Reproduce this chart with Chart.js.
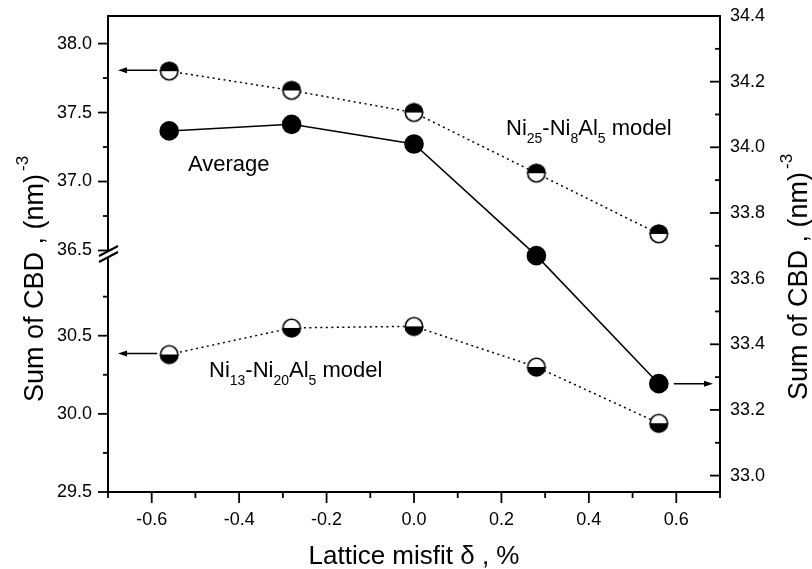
<!DOCTYPE html>
<html>
<head>
<meta charset="utf-8">
<script src="https://cdn.jsdelivr.net/npm/chart.js@4/dist/chart.umd.min.js"></script>
<style>
  html, body { margin: 0; padding: 0; background: #fff; }
  #wrap { width: 812px; height: 569px; }
</style>
</head>
<body>
<div id="wrap"><canvas id="chart" width="812" height="569"></canvas></div>
<script>
// lattice misfit (%) and sum of CBD values
const misfit = [-0.56, -0.28, 0.0, 0.28, 0.56];
const ni25Model = [37.80, 37.66, 37.50, 37.06, 36.62];
const ni13Model = [30.38, 30.55, 30.56, 30.30, 29.94];
const average = [34.05, 34.07, 34.01, 33.67, 33.28];

const xTicks = [-0.7, -0.6, -0.5, -0.4, -0.3, -0.2, -0.1, 0.0, 0.1, 0.2, 0.3, 0.4, 0.5, 0.6, 0.7];
const xLabels = [-0.6, -0.4, -0.2, 0.0, 0.2, 0.4, 0.6];
const lowTicks = [29.5, 29.75, 30.0, 30.25, 30.5, 30.75];
const highTicks = [36.5, 36.75, 37.0, 37.25, 37.5, 37.75, 38.0];
const leftLabels = [29.5, 30.0, 30.5, 36.5, 37.0, 37.5, 38.0];
const rightTicks = [33.0, 33.1, 33.2, 33.3, 33.4, 33.5, 33.6, 33.7, 33.8, 33.9, 34.0, 34.1, 34.2, 34.3, 34.4];
const rightLabels = [33.0, 33.2, 33.4, 33.6, 33.8, 34.0, 34.2, 34.4];

const FONT = "'Liberation Sans', Arial, Helvetica, sans-serif";
const has = (list, v) => list.some((t) => Math.abs(t - v) < 1e-6);
const setTicks = (list) => (axis) => { axis.ticks = list.map((v) => ({ value: v })); };
const labelFor = (list) => (value) => (has(list, value) ? value.toFixed(1) : "");
const fixSize = (prop, size) => (axis) => {
  axis[prop] = size;
  axis.paddingTop = 0; axis.paddingBottom = 0;
  axis.paddingLeft = 0; axis.paddingRight = 0;
};

const halfMarker = (topFilled) => {
  const c = document.createElement("canvas");
  const s = 24, r = 9.5, m = s / 2;
  c.width = s; c.height = s;
  const g = c.getContext("2d");
  g.fillStyle = "#fff";
  g.beginPath(); g.arc(m, m, r, 0, Math.PI * 2); g.fill();
  g.fillStyle = "#000";
  g.beginPath();
  if (topFilled) g.arc(m, m, r, Math.PI, Math.PI * 2);
  else g.arc(m, m, r, 0, Math.PI);
  g.closePath(); g.fill();
  g.strokeStyle = "#000"; g.lineWidth = 1.6;
  g.beginPath(); g.arc(m, m, r - 0.8, 0, Math.PI * 2); g.stroke();
  return c;
};

const toPoints = (ys) => misfit.map((x, i) => ({ x: x, y: ys[i] }));

const drawArrow = (ctx, x1, x2, y) => {
  const dir = Math.sign(x2 - x1);
  ctx.beginPath();
  ctx.moveTo(x1, y); ctx.lineTo(x2 - dir * 6, y); ctx.stroke();
  ctx.beginPath();
  ctx.moveTo(x2, y); ctx.lineTo(x2 - dir * 9, y - 3); ctx.lineTo(x2 - dir * 9, y + 3);
  ctx.closePath(); ctx.fill();
};

const drawModel = (ctx, parts, x, y) => {
  let cx = x;
  parts.forEach(([text, sub]) => {
    ctx.font = (sub ? "14px " : "22px ") + FONT;
    ctx.fillText(text, cx, sub ? y + 8 : y);
    cx += ctx.measureText(text).width;
  });
};

const drawYTitle = (ctx, x, y) => {
  ctx.save();
  ctx.translate(x, y);
  ctx.rotate(-Math.PI / 2);
  ctx.textAlign = "left"; ctx.textBaseline = "alphabetic";
  ctx.font = "27px " + FONT;
  const main = "Sum of CBD , (nm)";
  ctx.fillText(main, 0, 0);
  const w = ctx.measureText(main).width;
  ctx.font = "17px " + FONT;
  ctx.fillText("-3", w + 3, -15);
  ctx.restore();
};

const decorations = {
  id: "decorations",
  afterDraw(chart) {
    const ctx = chart.ctx;
    const a = chart.chartArea;
    const s = chart.scales;
    ctx.save();
    ctx.strokeStyle = "#000"; ctx.fillStyle = "#000"; ctx.lineCap = "butt";

    // frame
    ctx.lineWidth = 2;
    ctx.strokeRect(a.left, a.top, a.right - a.left, a.bottom - a.top);

    // tick marks
    ctx.lineWidth = 1.8;
    const tick = (x1, y1, x2, y2) => { ctx.beginPath(); ctx.moveTo(x1, y1); ctx.lineTo(x2, y2); ctx.stroke(); };
    xTicks.forEach((v) => {
      const px = s.x.getPixelForValue(v);
      tick(px, a.bottom, px, a.bottom + (has(xLabels, v) ? 11 : 6));
    });
    [[s.yLow, lowTicks], [s.yHigh, highTicks]].forEach(([sc, list]) => {
      list.forEach((v) => {
        const py = sc.getPixelForValue(v);
        tick(a.left, py, a.left - (has(leftLabels, v) ? 10 : 5), py);
      });
    });
    rightTicks.forEach((v) => {
      const py = s.yRight.getPixelForValue(v);
      tick(a.right, py, a.right - (has(rightLabels, v) ? 10 : 5), py);
    });

    // axis break on the left axis
    const yb = s.yHigh.bottom - 2;
    ctx.fillStyle = "#fff";
    ctx.fillRect(a.left - 3, yb - 3, 6, 6);
    ctx.fillStyle = "#000";
    ctx.lineWidth = 2;
    [-3, 3].forEach((d) => tick(a.left - 9, yb + d + 5, a.left + 10, yb + d - 5));

    // arrows pointing at the axis each series belongs to
    ctx.lineWidth = 1.5;
    const p25 = chart.getDatasetMeta(0).data[0];
    const p13 = chart.getDatasetMeta(1).data[0];
    const pAvg = chart.getDatasetMeta(2).data[misfit.length - 1];
    drawArrow(ctx, p25.x - 12, a.left + 10, p25.y - 1);
    drawArrow(ctx, p13.x - 12, a.left + 10, p13.y - 1);
    drawArrow(ctx, pAvg.x + 15, a.right - 7, pAvg.y);

    // annotations
    ctx.textAlign = "left"; ctx.textBaseline = "alphabetic";
    ctx.font = "22px " + FONT;
    ctx.fillText("Average", 188, 171);
    drawModel(ctx, [["Ni", 0], ["25", 1], ["-Ni", 0], ["8", 1], ["Al", 0], ["5", 1], [" model", 0]], 506, 135);
    drawModel(ctx, [["Ni", 0], ["13", 1], ["-Ni", 0], ["20", 1], ["Al", 0], ["5", 1], [" model", 0]], 209, 377);

    // axis titles
    ctx.font = "26px " + FONT;
    ctx.textAlign = "center";
    ctx.fillText("Lattice misfit \u03b4 , %", (a.left + a.right) / 2, 564);
    drawYTitle(ctx, 43, 402);
    drawYTitle(ctx, 807, 400);
    ctx.restore();
  },
};

const tickFont = { family: FONT, size: 18 };

new Chart(document.getElementById("chart"), {
  type: "line",
  data: {
    datasets: [
      {
        label: "Ni25-Ni8Al5 model",
        data: toPoints(ni25Model),
        yAxisID: "yHigh",
        borderColor: "#000",
        borderWidth: 1.5,
        borderDash: [2, 3.5],
        pointStyle: halfMarker(true),
        pointRadius: 10,
        clip: false,
      },
      {
        label: "Ni13-Ni20Al5 model",
        data: toPoints(ni13Model),
        yAxisID: "yLow",
        borderColor: "#000",
        borderWidth: 1.5,
        borderDash: [2, 3.5],
        pointStyle: halfMarker(false),
        pointRadius: 10,
        clip: false,
      },
      {
        label: "Average",
        data: toPoints(average),
        yAxisID: "yRight",
        borderColor: "#000",
        borderWidth: 1.5,
        pointStyle: "circle",
        pointRadius: 9.8,
        pointBackgroundColor: "#000",
        pointBorderWidth: 0,
        clip: false,
      },
    ],
  },
  options: {
    responsive: false,
    animation: false,
    events: [],
    layout: { padding: { top: 16, left: 0, right: 0, bottom: 0 } },
    plugins: { legend: { display: false }, tooltip: { enabled: false } },
    scales: {
      x: {
        type: "linear",
        position: "bottom",
        min: -0.7,
        max: 0.7,
        afterBuildTicks: setTicks(xTicks),
        afterFit: fixSize("height", 77),
        grid: { display: false, drawTicks: false },
        border: { display: false },
        ticks: { callback: labelFor(xLabels), font: tickFont, color: "#000", padding: 17, autoSkip: false, maxRotation: 0 },
      },
      yLow: {
        type: "linear",
        position: "left",
        stack: "left",
        stackWeight: 236,
        weight: 0,
        min: 29.5,
        max: 31.01,
        afterBuildTicks: setTicks(lowTicks),
        afterFit: fixSize("width", 108),
        grid: { display: false, drawTicks: false },
        border: { display: false },
        ticks: { callback: labelFor(leftLabels), font: tickFont, color: "#000", padding: 16, autoSkip: false },
      },
      yHigh: {
        type: "linear",
        position: "left",
        stack: "left",
        stackWeight: 240,
        weight: 1,
        min: 36.46,
        max: 38.2,
        afterBuildTicks: setTicks(highTicks),
        afterFit: fixSize("width", 108),
        grid: { display: false, drawTicks: false },
        border: { display: false },
        ticks: { callback: labelFor(leftLabels), font: tickFont, color: "#000", padding: 16, autoSkip: false },
      },
      yRight: {
        type: "linear",
        position: "right",
        min: 32.95,
        max: 34.4,
        afterBuildTicks: setTicks(rightTicks),
        afterFit: fixSize("width", 92),
        grid: { display: false, drawTicks: false },
        border: { display: false },
        ticks: { callback: labelFor(rightLabels), font: tickFont, color: "#000", padding: 10, autoSkip: false },
      },
    },
  },
  plugins: [decorations],
});
</script>
</body>
</html>
